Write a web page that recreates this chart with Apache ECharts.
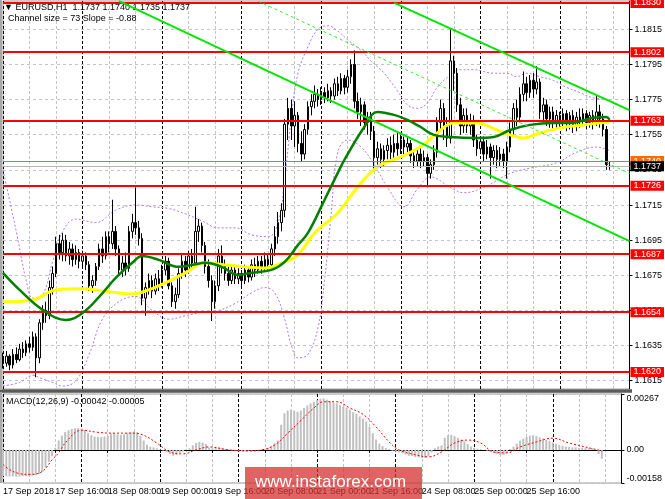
<!DOCTYPE html>
<html><head><meta charset="utf-8">
<script src="https://cdn.jsdelivr.net/npm/echarts@6/dist/echarts.min.js"></script>
<style>html,body{margin:0;padding:0;background:#fff}#c{width:665px;height:499px}</style>
</head><body><div id="c"></div>
<script>
const FONT = '"Liberation Sans Narrow","Liberation Sans",sans-serif';
const slotCount = 190;
const timeTicks = ['17 Sep 2018','17 Sep 16:00','18 Sep 08:00','19 Sep 00:00','19 Sep 16:00','20 Sep 08:00','21 Sep 00:00','21 Sep 16:00','24 Sep 08:00','25 Sep 00:00','25 Sep 16:00','26 Sep 08:00'];
const priceTicks = [1.1615,1.1635,1.1655,1.1675,1.1695,1.1715,1.1735,1.1755,1.1775,1.1795,1.1815];
const macdTicks = [-0.00158,0,0.00267];
const levels = [1.1830,1.1802,1.1763,1.1726,1.1687,1.1654,1.1620];
const askLevel = 1.1740;
const bidLevel = 1.1737;
// [open, close, low, high]
const candles = [
[1.1628,1.1625,1.1622,1.1631],[1.1625,1.1629,1.1623,1.1632],[1.1629,1.1624,1.1621,1.1630],[1.1624,1.1630,1.1622,1.1633],
[1.1630,1.1627,1.1625,1.1634],[1.1627,1.1633,1.1626,1.1636],[1.1633,1.1631,1.1628,1.1637],[1.1631,1.1636,1.1629,1.1638],
[1.1636,1.1634,1.1631,1.1640],[1.1634,1.1640,1.1632,1.1643],[1.1640,1.1628,1.1617,1.1642],[1.1628,1.1648,1.1625,1.1650],
[1.1648,1.1655,1.1644,1.1658],[1.1655,1.1652,1.1648,1.1660],[1.1652,1.1668,1.1650,1.1672],[1.1668,1.1676,1.1664,1.1680],
[1.1676,1.1693,1.1674,1.1697],[1.1693,1.1688,1.1684,1.1698],[1.1688,1.1695,1.1683,1.1699],[1.1695,1.1686,1.1683,1.1698],
[1.1686,1.1690,1.1681,1.1694],[1.1690,1.1684,1.1680,1.1693],[1.1684,1.1688,1.1681,1.1692],[1.1688,1.1683,1.1679,1.1690],
[1.1683,1.1686,1.1680,1.1689],[1.1686,1.1681,1.1678,1.1688],[1.1681,1.1669,1.1666,1.1683],[1.1669,1.1672,1.1665,1.1675],
[1.1672,1.1680,1.1669,1.1682],[1.1680,1.1690,1.1678,1.1693],[1.1690,1.1686,1.1682,1.1697],[1.1686,1.1697,1.1684,1.1700],
[1.1697,1.1693,1.1688,1.1700],[1.1693,1.1700,1.1690,1.1718],[1.1700,1.1690,1.1686,1.1703],[1.1690,1.1678,1.1675,1.1692],
[1.1678,1.1682,1.1674,1.1686],[1.1682,1.1679,1.1675,1.1688],[1.1679,1.1700,1.1677,1.1703],[1.1700,1.1705,1.1696,1.1710],
[1.1705,1.1702,1.1698,1.1725],[1.1702,1.1696,1.1692,1.1706],[1.1696,1.1662,1.1658,1.1699],[1.1662,1.1668,1.1652,1.1671],
[1.1668,1.1672,1.1664,1.1676],[1.1672,1.1666,1.1662,1.1675],[1.1666,1.1673,1.1664,1.1676],[1.1673,1.1670,1.1666,1.1678],
[1.1670,1.1678,1.1668,1.1681],[1.1678,1.1683,1.1675,1.1686],[1.1683,1.1669,1.1667,1.1685],[1.1669,1.1660,1.1657,1.1671],
[1.1660,1.1664,1.1656,1.1668],[1.1664,1.1676,1.1662,1.1679],[1.1676,1.1683,1.1673,1.1687],[1.1683,1.1678,1.1674,1.1686],
[1.1678,1.1686,1.1676,1.1689],[1.1686,1.1682,1.1678,1.1690],[1.1682,1.1700,1.1680,1.1714],[1.1700,1.1703,1.1694,1.1707],
[1.1703,1.1692,1.1688,1.1705],[1.1692,1.1680,1.1676,1.1694],[1.1680,1.1672,1.1668,1.1684],[1.1672,1.1660,1.1649,1.1675],
[1.1660,1.1669,1.1656,1.1672],[1.1669,1.1686,1.1666,1.1690],[1.1686,1.1680,1.1676,1.1692],[1.1680,1.1676,1.1672,1.1684],
[1.1676,1.1672,1.1669,1.1680],[1.1672,1.1678,1.1670,1.1681],[1.1678,1.1673,1.1670,1.1681],[1.1673,1.1676,1.1670,1.1679],
[1.1676,1.1672,1.1669,1.1678],[1.1672,1.1678,1.1670,1.1681],[1.1678,1.1674,1.1671,1.1680],[1.1674,1.1681,1.1672,1.1684],
[1.1681,1.1678,1.1674,1.1685],[1.1678,1.1683,1.1676,1.1686],[1.1683,1.1679,1.1676,1.1686],[1.1679,1.1684,1.1677,1.1688],
[1.1684,1.1681,1.1678,1.1687],[1.1681,1.1690,1.1679,1.1693],[1.1690,1.1697,1.1686,1.1703],[1.1697,1.1705,1.1693,1.1711],
[1.1705,1.1712,1.1700,1.1716],[1.1712,1.1761,1.1708,1.1764],[1.1761,1.1770,1.1752,1.1776],[1.1770,1.1760,1.1752,1.1775],
[1.1760,1.1766,1.1748,1.1774],[1.1766,1.1750,1.1745,1.1768],[1.1750,1.1744,1.1740,1.1757],[1.1744,1.1758,1.1741,1.1761],
[1.1758,1.1771,1.1755,1.1774],[1.1771,1.1774,1.1766,1.1778],[1.1774,1.1778,1.1770,1.1783],[1.1778,1.1775,1.1771,1.1781],
[1.1775,1.1779,1.1772,1.1782],[1.1779,1.1776,1.1773,1.1782],[1.1776,1.1780,1.1774,1.1784],[1.1780,1.1777,1.1773,1.1782],
[1.1777,1.1784,1.1775,1.1787],[1.1784,1.1780,1.1777,1.1788],[1.1780,1.1787,1.1778,1.1790],[1.1787,1.1782,1.1778,1.1789],
[1.1782,1.1788,1.1779,1.1792],[1.1788,1.1795,1.1784,1.1798],[1.1795,1.1774,1.1770,1.1803],[1.1774,1.1768,1.1764,1.1779],
[1.1768,1.1772,1.1760,1.1776],[1.1772,1.1762,1.1758,1.1774],[1.1762,1.1765,1.1755,1.1768],[1.1765,1.1757,1.1752,1.1768],
[1.1757,1.1742,1.1734,1.1760],[1.1742,1.1747,1.1738,1.1751],[1.1747,1.1741,1.1736,1.1750],[1.1741,1.1746,1.1737,1.1749],
[1.1746,1.1749,1.1741,1.1753],[1.1749,1.1745,1.1741,1.1754],[1.1745,1.1750,1.1742,1.1755],[1.1750,1.1747,1.1743,1.1756],
[1.1747,1.1752,1.1744,1.1755],[1.1752,1.1748,1.1744,1.1754],[1.1748,1.1750,1.1745,1.1754],[1.1750,1.1743,1.1739,1.1752],
[1.1743,1.1740,1.1736,1.1746],[1.1740,1.1744,1.1737,1.1747],[1.1744,1.1740,1.1736,1.1748],[1.1740,1.1742,1.1737,1.1746],
[1.1742,1.1733,1.1726,1.1744],[1.1733,1.1738,1.1730,1.1741],[1.1738,1.1745,1.1735,1.1749],[1.1745,1.1762,1.1742,1.1765],
[1.1762,1.1770,1.1757,1.1775],[1.1770,1.1760,1.1752,1.1773],[1.1760,1.1753,1.1748,1.1765],[1.1753,1.1797,1.1750,1.1815],
[1.1797,1.1790,1.1780,1.1800],[1.1790,1.1772,1.1768,1.1793],[1.1772,1.1760,1.1755,1.1776],[1.1760,1.1766,1.1756,1.1770],
[1.1766,1.1760,1.1756,1.1770],[1.1760,1.1763,1.1755,1.1767],[1.1763,1.1752,1.1748,1.1766],[1.1752,1.1747,1.1743,1.1755],
[1.1747,1.1751,1.1744,1.1754],[1.1751,1.1744,1.1740,1.1754],[1.1744,1.1748,1.1741,1.1752],[1.1748,1.1742,1.1730,1.1750],
[1.1742,1.1746,1.1738,1.1749],[1.1746,1.1741,1.1736,1.1749],[1.1741,1.1744,1.1737,1.1748],[1.1744,1.1740,1.1736,1.1747],
[1.1740,1.1748,1.1730,1.1751],[1.1748,1.1758,1.1745,1.1762],[1.1758,1.1770,1.1754,1.1773],[1.1770,1.1765,1.1760,1.1775],
[1.1765,1.1778,1.1762,1.1782],[1.1778,1.1784,1.1774,1.1791],[1.1784,1.1779,1.1774,1.1788],[1.1779,1.1786,1.1776,1.1789],
[1.1786,1.1781,1.1776,1.1790],[1.1781,1.1785,1.1778,1.1794],[1.1785,1.1768,1.1764,1.1787],[1.1768,1.1772,1.1762,1.1776],
[1.1772,1.1764,1.1760,1.1775],[1.1764,1.1768,1.1759,1.1771],[1.1768,1.1762,1.1758,1.1771],[1.1762,1.1766,1.1759,1.1769],
[1.1766,1.1763,1.1759,1.1768],[1.1763,1.1767,1.1760,1.1770],[1.1767,1.1762,1.1757,1.1769],[1.1762,1.1766,1.1758,1.1768],
[1.1766,1.1760,1.1756,1.1769],[1.1760,1.1765,1.1757,1.1768],[1.1765,1.1763,1.1759,1.1770],[1.1763,1.1767,1.1760,1.1770],
[1.1767,1.1762,1.1758,1.1769],[1.1762,1.1766,1.1759,1.1768],[1.1766,1.1763,1.1758,1.1769],[1.1763,1.1768,1.1760,1.1777],
[1.1768,1.1764,1.1759,1.1772],[1.1764,1.1758,1.1754,1.1767],[1.1758,1.1738,1.1735,1.1760],[1.1737,1.1737,1.1735,1.1740]
];
const maGreen = [[0,1.16764],[5,1.16667],[12,1.16553],[19,1.16496],[24,1.16536],[29,1.16627],[34,1.16735],[39,1.16821],[42,1.16860],[47,1.16838],[53,1.16798],[57,1.16809],[61,1.16821],[66,1.16798],[71,1.16752],[75,1.16764],[81,1.16781],[85,1.16826],[89,1.16923],[92,1.16991],[97,1.17179],[101,1.17333],[103,1.17407],[109,1.17594],[113,1.17680],[118,1.17663],[122,1.17634],[126,1.17594],[130,1.17549],[135,1.17537],[143,1.17532],[148,1.17537],[153,1.17577],[159,1.17606],[166,1.17617],[171,1.17617],[178,1.17646],[182,1.17651],[183,1.17635]];
const maYellow = [[0,1.16599],[9,1.16610],[16,1.16667],[24,1.16673],[32,1.16656],[39,1.16644],[44,1.16667],[49,1.16707],[55,1.16764],[61,1.16821],[67,1.16809],[73,1.16798],[79,1.16792],[85,1.16826],[89,1.16866],[94,1.16991],[101,1.17105],[107,1.17253],[113,1.17367],[120,1.17424],[126,1.17481],[131,1.17560],[136,1.17617],[143,1.17617],[149,1.17577],[153,1.17549],[157,1.17532],[162,1.17560],[168,1.17589],[175,1.17606],[183,1.17623]];
const bandUpper = [[0,1.1735],[4,1.1700],[7,1.1672],[9,1.1662],[12,1.1664],[15,1.1683],[18,1.1700],[22,1.1707],[28,1.1705],[34,1.1712],[40,1.1715],[45,1.1714],[50,1.1713],[55,1.1710],[60,1.1706],[65,1.1702],[70,1.1702],[75,1.1698],[80,1.1697],[83,1.1705],[85,1.1730],[87,1.1765],[89,1.1790],[92,1.1805],[95,1.1815],[98,1.1817],[101,1.1814],[104,1.1809],[108,1.1803],[111,1.1797],[115,1.1790],[119,1.1780],[122,1.1772],[125,1.1770],[128,1.1773],[131,1.1782],[135,1.1789],[138,1.1792],[142,1.1792],[148,1.1790],[152,1.1790],[155,1.1788],[158,1.1790],[162,1.1788],[166,1.1786],[170,1.1782],[174,1.1779],[178,1.1776],[183,1.1775]];
const bandLower = [[0,1.1612],[5,1.1614],[9,1.1618],[12,1.1616],[15,1.1614],[18,1.1612],[22,1.1615],[26,1.1630],[30,1.1650],[35,1.1660],[40,1.1663],[45,1.1655],[50,1.1650],[55,1.1652],[60,1.1654],[65,1.1655],[70,1.1659],[75,1.1665],[79,1.1668],[82,1.1665],[85,1.1650],[87,1.1635],[89,1.1628],[92,1.1630],[95,1.1645],[97,1.1672],[99,1.1710],[101,1.1745],[104,1.1752],[108,1.1748],[112,1.1738],[116,1.1725],[121,1.1714],[125,1.1724],[129,1.1731],[135,1.1725],[139,1.1722],[145,1.1725],[153,1.1733],[159,1.1736],[167,1.1739],[173,1.1745],[179,1.1748],[183,1.1746]];
const channelUpper = [[118,1.1830],[189,1.1769]];
const channelMiddle = [[77,1.1831],[189,1.1733]];
const channelLower = [[35,1.1831],[189,1.16945]];
const macdHist = [-0.00124,-0.00126,-0.00127,-0.00127,-0.00128,-0.00127,-0.00126,-0.00125,-0.00124,-0.00122,-0.00120,-0.00115,
-0.00105,-0.00085,-0.00058,-0.00030,0.00010,0.00045,0.00068,0.00085,0.00094,0.00100,0.00103,0.00104,0.00102,0.00095,0.00080,0.00070,
0.00064,0.00062,0.00062,0.00064,0.00068,0.00078,0.00080,0.00074,0.00072,0.00074,0.00082,0.00086,0.00088,0.00084,0.00066,0.00045,
0.00025,0.00015,0.00012,0.00008,0.00002,-0.00003,-0.00010,-0.00020,-0.00028,-0.00025,-0.00015,-0.00008,0.00002,0.00008,0.00022,0.00034,
0.00038,0.00035,0.00028,0.00012,0.00008,0.00012,0.00012,0.00009,0.00005,0.00003,-0.00002,-0.00004,-0.00006,-0.00005,-0.00006,-0.00004,
-0.00004,-0.00002,-0.00002,0.00002,0.00004,0.00010,0.00020,0.00032,0.00045,0.00120,0.00175,0.00188,0.00192,0.00188,0.00182,0.00188,
0.00200,0.00212,0.00222,0.00230,0.00238,0.00244,0.00246,0.00240,0.00232,0.00226,0.00222,0.00214,0.00206,0.00202,0.00192,0.00180,
0.00172,0.00160,0.00150,0.00136,0.00110,0.00080,0.00050,0.00030,0.00018,0.00010,0.00004,-0.00004,-0.00008,-0.00012,-0.00016,-0.00022,
-0.00028,-0.00030,-0.00034,-0.00036,-0.00040,-0.00038,-0.00030,-0.00012,0.00008,0.00016,0.00022,0.00058,0.00070,0.00072,0.00066,0.00058,
0.00050,0.00040,0.00028,0.00016,0.00010,0.00006,0.00004,0.00000,-0.00004,-0.00008,-0.00014,-0.00020,-0.00026,-0.00024,-0.00014,0.00004,
0.00016,0.00030,0.00044,0.00054,0.00062,0.00068,0.00070,0.00066,0.00060,0.00054,0.00048,0.00042,0.00036,0.00030,0.00024,0.00020,
0.00016,0.00014,0.00012,0.00012,0.00010,0.00010,0.00009,0.00010,0.00008,0.00002,-0.00020,-0.00042];
const macdSignal = [[0,-0.00070],[2,-0.00094],[5,-0.00113],[8,-0.00117],[12,-0.00103],[15,-0.00047],[17,-0.00014],[19,0.00033],[24,0.00094],[29,0.00084],[34,0.00080],[40,0.00080],[43,0.00070],[47,0.00033],[51,-0.00010],[55,-0.00019],[59,0.00000],[63,0.00014],[69,0.00000],[75,-0.00005],[79,0.00000],[83,0.00023],[87,0.00080],[91,0.00140],[95,0.00200],[98,0.00230],[102,0.00230],[106,0.00200],[110,0.00170],[114,0.00110],[118,0.00038],[121,0.00000],[126,-0.00023],[130,-0.00033],[134,-0.00010],[138,0.00033],[142,0.00047],[146,0.00033],[150,-0.00010],[154,-0.00014],[158,0.00014],[163,0.00038],[168,0.00056],[173,0.00033],[178,0.00014],[183,-0.00005]];

const cats = Array.from({length: slotCount}, (_, i) => String(i));
const every16 = i => i % 16 === 0;
const every8 = i => i % 8 === 0;
const txt = {fontFamily: FONT, fontSize: 9, color: '#000'};

function levelLine(v, color, bg, width) {
  return {yAxis: v, lineStyle: {color: color, width: width, type: 'solid'},
    label: {show: true, position: 'end', distance: 1, formatter: v.toFixed(4), backgroundColor: bg, color: '#fff',
      fontFamily: FONT, fontSize: 9, padding: [1, 3, 0, 3]}};
}

const chart = echarts.init(document.getElementById('c'), null, {renderer: 'canvas'});
chart.setOption({
  animation: false,
  backgroundColor: '#fff',
  title: [
    {text: '\u25BC EURUSD,H1  1.1737 1.1740 1.1735 1.1737', left: 4, top: 3, padding: 0, textStyle: {fontFamily: FONT, fontSize: 9, fontWeight: 'normal', color: '#000'}},
    {text: 'Channel size = 73 Slope = -0.88', left: 8, top: 14, padding: 0, textStyle: {fontFamily: FONT, fontSize: 9, fontWeight: 'normal', color: '#000'}},
    {text: 'MACD(12,26,9) -0.00042 -0.00005', left: 6, top: 397, padding: 0, textStyle: {fontFamily: FONT, fontSize: 9, fontWeight: 'normal', color: '#000'}}
  ],
  grid: [
    {left: 3, right: 33, top: 1, height: 388, show: true, borderColor: '#9a9a9a', borderWidth: 1},
    {left: 3, right: 33, top: 394, height: 89, show: true, borderColor: '#9a9a9a', borderWidth: 1}
  ],
  xAxis: [
    {type: 'category', gridIndex: 0, data: cats, boundaryGap: false,
      axisLine: {show: false}, axisTick: {show: false}, axisLabel: {show: false},
      splitLine: {show: true, interval: every8, lineStyle: {color: ['#000000', '#c4c4c4', '#c4c4c4'], type: [3, 2], width: 1}}},
    {type: 'category', gridIndex: 1, data: cats, boundaryGap: false,
      axisLine: {show: true, lineStyle: {color: '#000'}},
      axisTick: {show: true, interval: every16, length: 3, lineStyle: {color: '#000'}},
      axisLabel: Object.assign({interval: every16, align: 'left', margin: 4, formatter: (v, i) => timeTicks[i / 16] || ''}, txt),
      splitLine: {show: true, interval: every8, lineStyle: {color: ['#000000', '#c4c4c4', '#c4c4c4'], type: [3, 2], width: 1}}}
  ],
  yAxis: [
    {type: 'value', gridIndex: 0, position: 'right', min: 1.16103, max: 1.18311, scale: true,
      axisLine: {show: true, lineStyle: {color: '#000'}},
      axisTick: {show: true, customValues: priceTicks, length: 3, lineStyle: {color: '#000'}},
      axisLabel: Object.assign({customValues: priceTicks, margin: 5, formatter: v => v.toFixed(4)}, txt),
      splitLine: {show: true, lineStyle: {color: '#c4c4c4', type: [3, 3]}}},
    {type: 'value', gridIndex: 1, position: 'right', min: -0.00158, max: 0.00267,
      axisLine: {show: true, lineStyle: {color: '#000'}},
      axisTick: {show: true, customValues: macdTicks, length: 3, lineStyle: {color: '#000'}},
      axisLabel: Object.assign({customValues: macdTicks, margin: 5, verticalAlignMaxLabel: 'top', verticalAlignMinLabel: 'bottom',
        formatter: v => (Math.abs(v) < 1e-9 ? '0.00' : v.toFixed(5))}, txt),
      splitLine: {show: true, lineStyle: {color: '#c4c4c4', type: [3, 3]}}}
  ],
  series: [
    {type: 'line', name: 'bandLower', xAxisIndex: 0, yAxisIndex: 0, data: bandLower, showSymbol: false, smooth: 0.4, z: 1,
      lineStyle: {color: '#b277f0', width: 1, type: [2, 2]},
      markLine: {silent: true, symbol: ['none', 'none'], animation: false, precision: 5,
        data: levels.map(v => levelLine(v, '#ff0000', '#ff0000', 2))
          .concat([levelLine(askLevel, '#ff6a00', '#ff6a00', 1), levelLine(bidLevel, '#b4b4b4', '#000000', 1)])}},
    {type: 'line', name: 'bandUpper', xAxisIndex: 0, yAxisIndex: 0, data: bandUpper, showSymbol: false, smooth: 0.4, z: 1,
      lineStyle: {color: '#b277f0', width: 1, type: [2, 2]}},
    {type: 'candlestick', name: 'EURUSD', xAxisIndex: 0, yAxisIndex: 0, data: candles, barWidth: 2, z: 3,
      itemStyle: {color: '#ffffff', color0: '#000000', borderColor: '#000000', borderColor0: '#000000', borderWidth: 1}},
    {type: 'line', name: 'maYellow', xAxisIndex: 0, yAxisIndex: 0, data: maYellow, showSymbol: false, smooth: 0.4, z: 4,
      lineStyle: {color: '#ffff00', width: 3}},
    {type: 'line', name: 'maGreen', xAxisIndex: 0, yAxisIndex: 0, data: maGreen, showSymbol: false, smooth: 0.4, z: 5,
      lineStyle: {color: '#008000', width: 2.5}},
    {type: 'line', name: 'channelUpper', xAxisIndex: 0, yAxisIndex: 0, data: channelUpper, showSymbol: false, z: 6,
      lineStyle: {color: '#00e600', width: 2}},
    {type: 'line', name: 'channelMiddle', xAxisIndex: 0, yAxisIndex: 0, data: channelMiddle, showSymbol: false, z: 6,
      lineStyle: {color: '#33ee33', width: 1, type: [3, 3]}},
    {type: 'line', name: 'channelLower', xAxisIndex: 0, yAxisIndex: 0, data: channelLower, showSymbol: false, z: 6,
      lineStyle: {color: '#00e600', width: 2}},
    {type: 'bar', name: 'MACD', xAxisIndex: 1, yAxisIndex: 1, data: macdHist, barWidth: 2, z: 3,
      itemStyle: {color: '#c0c0c0'}},
    {type: 'line', name: 'Signal', xAxisIndex: 1, yAxisIndex: 1, data: macdSignal, showSymbol: false, smooth: 0.4, z: 4,
      lineStyle: {color: '#ff0000', width: 1, type: [2, 2]}}
  ],
  graphic: [
    {type: 'rect', left: 0, top: 389, shape: {width: 632, height: 4}, style: {fill: '#7f7f7f'}, z: 50},
    {type: 'rect', left: 0, top: 390, shape: {width: 632, height: 2}, style: {fill: '#5a5a5a'}, z: 51},
    {type: 'rect', left: 0, top: 0, shape: {width: 2, height: 483}, style: {fill: '#a8a8a8'}, z: 50},
    {type: 'rect', left: 245, top: 467, shape: {width: 177, height: 32}, style: {fill: 'rgba(214,48,48,0.75)'}, z: 60},
    {type: 'text', left: 255, top: 474, style: {text: 'www.instaforex.com', fill: '#ffffff', font: '17px "Liberation Sans", sans-serif'}, z: 61}
  ]
});
</script>
</body></html>
